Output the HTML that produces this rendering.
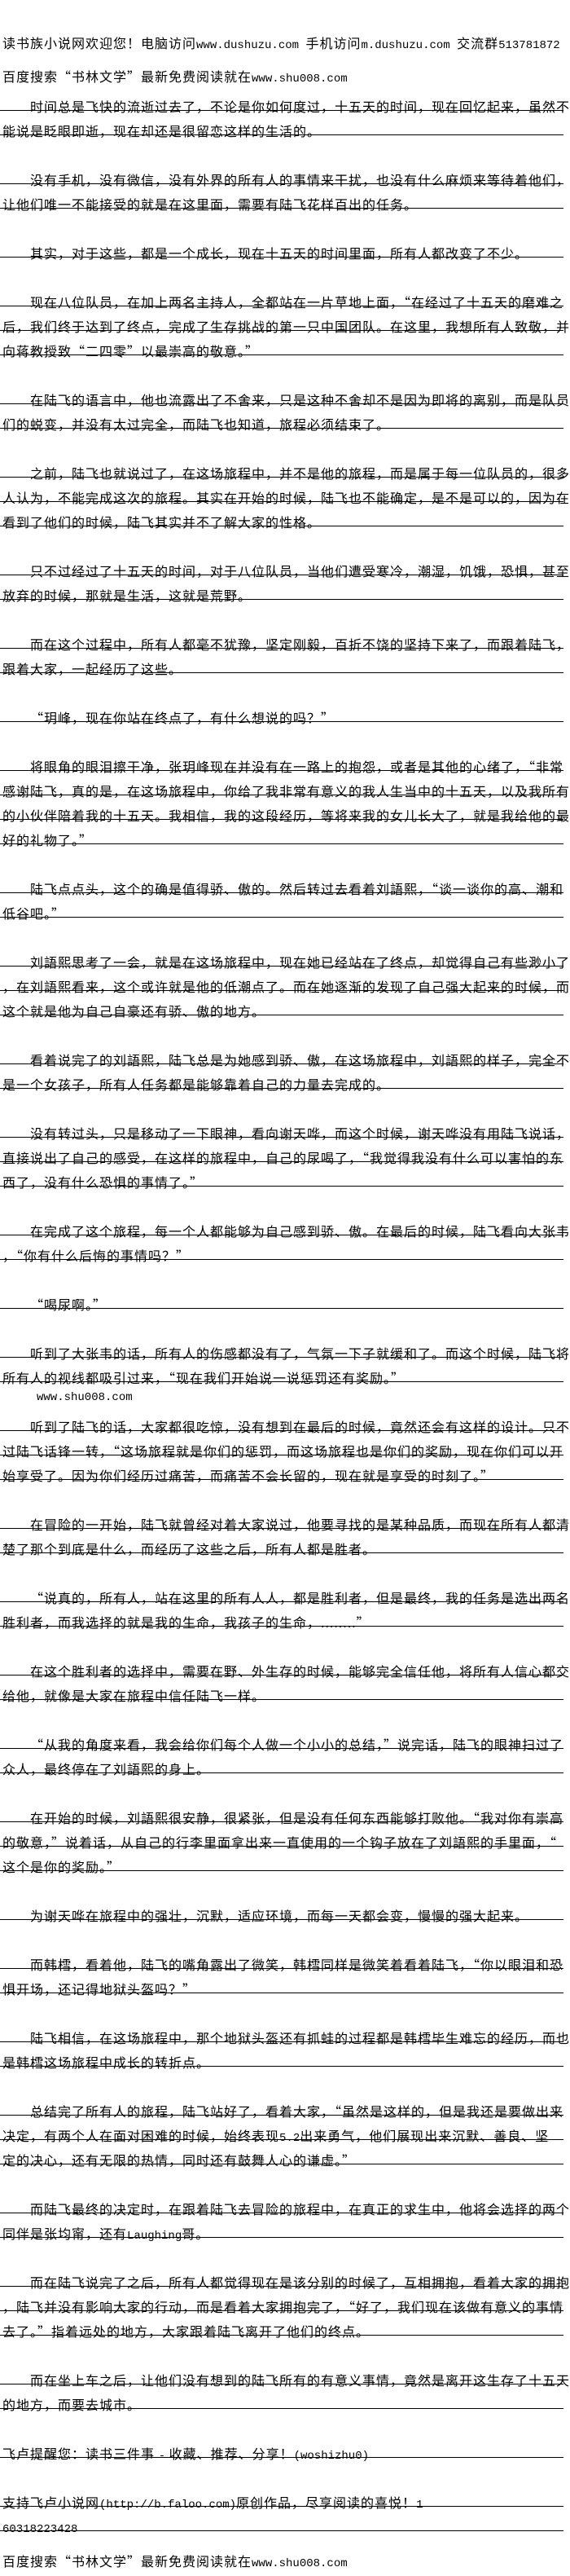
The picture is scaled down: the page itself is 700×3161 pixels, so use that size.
<!DOCTYPE html>
<html><head><meta charset="utf-8"><style>
html,body{margin:0;padding:0;background:#fff;}
body{width:700px;height:3153px;position:relative;overflow:hidden;color:#000;
font-family:"Noto Sans CJK SC","WenQuanYi Zen Hei",sans-serif;font-size:16px;letter-spacing:1px;}
.m{font-family:"Liberation Mono","Noto Sans CJK SC",monospace;font-size:14px;letter-spacing:0;}
.h{position:absolute;left:3px;white-space:nowrap;line-height:30px;height:30px;}
#c{position:absolute;left:0;top:115px;width:700px;}
.l{position:relative;height:30px;line-height:30px;white-space:nowrap;padding-left:3px;}
.l .t{position:relative;top:1px;}
.u::after{content:"";position:absolute;left:0;top:20px;width:692px;height:1px;background:#000;}
.l span.i{display:inline-block;width:34px;}
</style></head><body>
<div class="h" style="top:37px">读书族小说网欢迎您！电脑访问<span class="m">www.dushuzu.com </span>手机访问<span class="m">m.dushuzu.com </span>交流群<span class="m">513781872</span></div>
<div class="h" style="top:78px">百度搜索“书林文学”最新免费阅读就在<span class="m">www.shu008.com</span></div>
<div id="c">
<div class="l u"><span class="i"></span>时间总是飞快的流逝过去了，不论是你如何度过，十五天的时间，现在回忆起来，虽然不</div>
<div class="l u">能说是眨眼即逝，现在却还是很留恋这样的生活的。</div>
<div class="l"></div>
<div class="l u"><span class="i"></span>没有手机，没有微信，没有外界的所有人的事情来干扰，也没有什么麻烦来等待着他们，</div>
<div class="l u">让他们唯一不能接受的就是在这里面，需要有陆飞花样百出的任务。</div>
<div class="l"></div>
<div class="l u"><span class="i"></span>其实，对于这些，都是一个成长，现在十五天的时间里面，所有人都改变了不少。</div>
<div class="l"></div>
<div class="l u"><span class="i"></span>现在八位队员，在加上两名主持人，全都站在一片草地上面，“在经过了十五天的磨难之</div>
<div class="l u">后，我们终于达到了终点，完成了生存挑战的第一只中国团队。在这里，我想所有人致敬，并</div>
<div class="l u">向蒋教授致“二四零”以最崇高的敬意。”</div>
<div class="l"></div>
<div class="l u"><span class="i"></span>在陆飞的语言中，他也流露出了不舍来，只是这种不舍却不是因为即将的离别，而是队员</div>
<div class="l u">们的蜕变，并没有太过完全，而陆飞也知道，旅程必须结束了。</div>
<div class="l"></div>
<div class="l u"><span class="i"></span>之前，陆飞也就说过了，在这场旅程中，并不是他的旅程，而是属于每一位队员的，很多</div>
<div class="l u">人认为，不能完成这次的旅程。其实在开始的时候，陆飞也不能确定，是不是可以的，因为在</div>
<div class="l u">看到了他们的时候，陆飞其实并不了解大家的性格。</div>
<div class="l"></div>
<div class="l u"><span class="i"></span>只不过经过了十五天的时间，对于八位队员，当他们遭受寒冷，潮湿，饥饿，恐惧，甚至</div>
<div class="l u">放弃的时候，那就是生活，这就是荒野。</div>
<div class="l"></div>
<div class="l u"><span class="i"></span>而在这个过程中，所有人都毫不犹豫，坚定刚毅，百折不饶的坚持下来了，而跟着陆飞，</div>
<div class="l u">跟着大家，一起经历了这些。</div>
<div class="l"></div>
<div class="l u"><span class="i"></span>“玥峰，现在你站在终点了，有什么想说的吗？”</div>
<div class="l"></div>
<div class="l u"><span class="i"></span>将眼角的眼泪擦干净，张玥峰现在并没有在一路上的抱怨，或者是其他的心绪了，“非常</div>
<div class="l u">感谢陆飞，真的是，在这场旅程中，你给了我非常有意义的我人生当中的十五天，以及我所有</div>
<div class="l u">的小伙伴陪着我的十五天。我相信，我的这段经历，等将来我的女儿长大了，就是我给他的最</div>
<div class="l u">好的礼物了。”</div>
<div class="l"></div>
<div class="l u"><span class="i"></span>陆飞点点头，这个的确是值得骄、傲的。然后转过去看着刘語熙，“谈一谈你的高、潮和</div>
<div class="l u">低谷吧。”</div>
<div class="l"></div>
<div class="l u"><span class="i"></span>刘語熙思考了一会，就是在这场旅程中，现在她已经站在了终点，却觉得自己有些渺小了</div>
<div class="l u">，在刘語熙看来，这个或许就是他的低潮点了。而在她逐渐的发现了自己强大起来的时候，而</div>
<div class="l u">这个就是他为自己自豪还有骄、傲的地方。</div>
<div class="l"></div>
<div class="l u"><span class="i"></span>看着说完了的刘語熙，陆飞总是为她感到骄、傲，在这场旅程中，刘語熙的样子，完全不</div>
<div class="l u">是一个女孩子，所有人任务都是能够靠着自己的力量去完成的。</div>
<div class="l"></div>
<div class="l u"><span class="i"></span>没有转过头，只是移动了一下眼神，看向谢天哗，而这个时候，谢天哗没有用陆飞说话，</div>
<div class="l u">直接说出了自己的感受，在这样的旅程中，自己的尿喝了，“我觉得我没有什么可以害怕的东</div>
<div class="l u">西了，没有什么恐惧的事情了。”</div>
<div class="l"></div>
<div class="l u"><span class="i"></span>在完成了这个旅程，每一个人都能够为自己感到骄、傲。在最后的时候，陆飞看向大张韦</div>
<div class="l u">，“你有什么后悔的事情吗？”</div>
<div class="l"></div>
<div class="l u"><span class="i"></span>“喝尿啊。”</div>
<div class="l"></div>
<div class="l u"><span class="i"></span>听到了大张韦的话，所有人的伤感都没有了，气氛一下子就缓和了。而这个时候，陆飞将</div>
<div class="l u">所有人的视线都吸引过来，“现在我们开始说一说惩罚还有奖励。”</div>
<div class="l" style="top:-9px"><span class="i" style="width:42px"></span><span class="m">www.shu008.com</span></div>
<div class="l u"><span class="i"></span>听到了陆飞的话，大家都很吃惊，没有想到在最后的时候，竟然还会有这样的设计。只不</div>
<div class="l u">过陆飞话锋一转，“这场旅程就是你们的惩罚，而这场旅程也是你们的奖励，现在你们可以开</div>
<div class="l u">始享受了。因为你们经历过痛苦，而痛苦不会长留的，现在就是享受的时刻了。”</div>
<div class="l"></div>
<div class="l u"><span class="i"></span>在冒险的一开始，陆飞就曾经对着大家说过，他要寻找的是某种品质，而现在所有人都清</div>
<div class="l u">楚了那个到底是什么，而经历了这些之后，所有人都是胜者。</div>
<div class="l"></div>
<div class="l u"><span class="i"></span>“说真的，所有人，站在这里的所有人人，都是胜利者，但是最终，我的任务是选出两名</div>
<div class="l u">胜利者，而我选择的就是我的生命，我孩子的生命，........”</div>
<div class="l"></div>
<div class="l u"><span class="i"></span>在这个胜利者的选择中，需要在野、外生存的时候，能够完全信任他，将所有人信心都交</div>
<div class="l u">给他，就像是大家在旅程中信任陆飞一样。</div>
<div class="l"></div>
<div class="l u"><span class="i"></span>“从我的角度来看，我会给你们每个人做一个小小的总结，”说完话，陆飞的眼神扫过了</div>
<div class="l u">众人，最终停在了刘語熙的身上。</div>
<div class="l"></div>
<div class="l u"><span class="i"></span>在开始的时候，刘語熙很安静，很紧张，但是没有任何东西能够打败他。“我对你有崇高</div>
<div class="l u">的敬意，”说着话，从自己的行李里面拿出来一直使用的一个钩子放在了刘語熙的手里面，“</div>
<div class="l u">这个是你的奖励。”</div>
<div class="l"></div>
<div class="l u"><span class="i"></span>为谢天哗在旅程中的强壮，沉默，适应环境，而每一天都会变，慢慢的强大起来。</div>
<div class="l"></div>
<div class="l u"><span class="i"></span>而韩樰，看着他，陆飞的嘴角露出了微笑，韩樰同样是微笑着看着陆飞，“你以眼泪和恐</div>
<div class="l u">惧开场，还记得地狱头盔吗？”</div>
<div class="l"></div>
<div class="l u"><span class="i"></span>陆飞相信，在这场旅程中，那个地狱头盔还有抓蛙的过程都是韩樰毕生难忘的经历，而也</div>
<div class="l u">是韩樰这场旅程中成长的转折点。</div>
<div class="l"></div>
<div class="l u"><span class="i"></span>总结完了所有人的旅程，陆飞站好了，看着大家，“虽然是这样的，但是我还是要做出来</div>
<div class="l u">决定，有两个人在面对困难的时候，始终表现<span class="m">5.2</span>出来勇气，他们展现出来沉默、善良、坚</div>
<div class="l u">定的决心，还有无限的热情，同时还有鼓舞人心的谦虚。”</div>
<div class="l"></div>
<div class="l u"><span class="i"></span>而陆飞最终的决定时，在跟着陆飞去冒险的旅程中，在真正的求生中，他将会选择的两个</div>
<div class="l u">同伴是张均甯，还有<span class="m">Laughing</span>哥。</div>
<div class="l"></div>
<div class="l u"><span class="i"></span>而在陆飞说完了之后，所有人都觉得现在是该分别的时候了，互相拥抱，看着大家的拥抱</div>
<div class="l u">，陆飞并没有影响大家的行动，而是看着大家拥抱完了，“好了，我们现在该做有意义的事情</div>
<div class="l u">去了。”指着远处的地方，大家跟着陆飞离开了他们的终点。</div>
<div class="l"></div>
<div class="l u"><span class="i"></span>而在坐上车之后，让他们没有想到的陆飞所有的有意义事情，竟然是离开这生存了十五天</div>
<div class="l u">的地方，而要去城市。</div>
<div class="l"></div>
<div class="l u">飞卢提醒您：读书三件事 <span class="m">-</span> 收藏、推荐、分享！<span class="m">(woshizhu0)</span></div>
<div class="l"></div>
<div class="l u">支持飞卢小说网<span class="m">(http://b.faloo.com)</span>原创作品，尽享阅读的喜悦！<span class="m">1</span></div>
<div class="l u"><span class="m">60318223428</span></div>
</div>
<div class="h" style="top:3127px">百度搜索“书林文学”最新免费阅读就在<span class="m">www.shu008.com</span></div>
</body></html>
